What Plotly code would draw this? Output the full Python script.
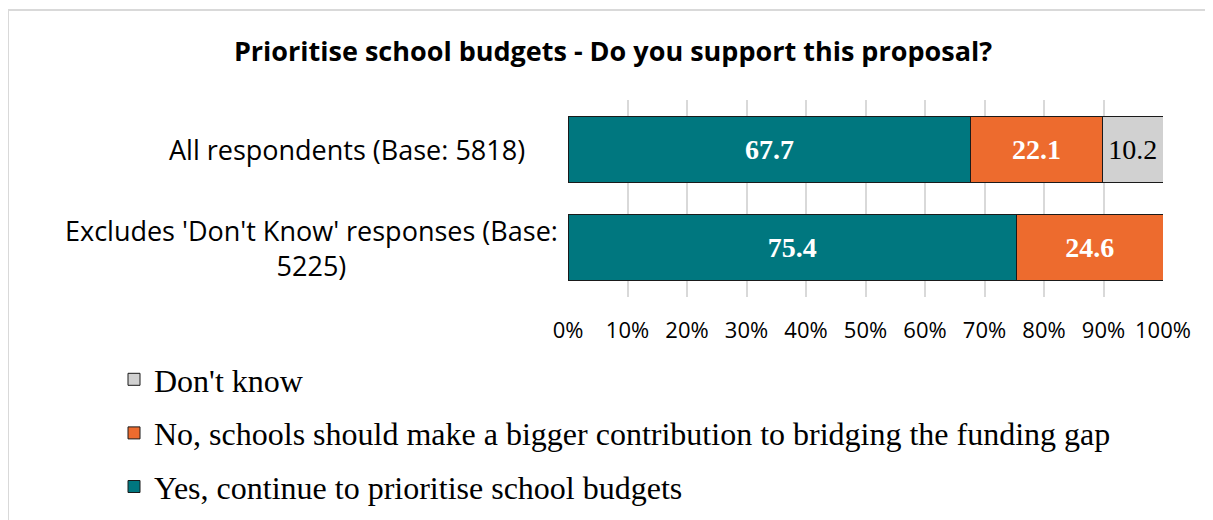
import plotly.graph_objects as go

categories = ["All respondents (Base: 5818)", "Excludes 'Don't Know' responses (Base:<br>5225)"]
yes_vals = [67.7, 75.4]
no_vals = [22.1, 24.6]
dk_vals = [10.2, None]

yes_name = "Yes, continue to prioritise school budgets"
no_name = "No, schools should make a bigger contribution to bridging the funding gap"
dk_name = "Don't know"

teal = "#00777F"
orange = "#ED6B2E"
grey = "#D1D1D1"

# page has an 8px body margin, so the figure is drawn 8px in from the corner
OFF = 8
W, H = 1213 - OFF, 520 - OFF
ml, mr, mt, mb = 568 - OFF, 1213 - 1163, 100 - OFF, 520 - 297
pw = W - ml - mr
ph = H - mt - mb


def px_x(x):
    return (x - OFF - ml) / pw


def px_y(y):
    return 1 - (y - OFF - mt) / ph


serif = "Liberation Serif"
sans = "Open Sans"

fig = go.Figure()

series = [
    (yes_vals, yes_name, teal, "white", "bold", 3),
    (no_vals, no_name, orange, "white", "bold", 2),
    (dk_vals, dk_name, grey, "black", "normal", 1),
]
for vals, name, col, tcol, weight, rank in series:
    fig.add_trace(go.Bar(
        y=categories,
        x=vals,
        name=name,
        orientation="h",
        marker=dict(color=col, line=dict(color="#1a1a1a", width=1)),
        text=[f"{v:.1f}" if v is not None else "" for v in vals],
        textposition="inside",
        insidetextanchor="middle",
        textfont=dict(family=serif, size=28, color=tcol, weight=weight),
        legendgroup=name,
        legendrank=rank,
        hoverinfo="skip",
    ))

# category labels (centered multi-line like the original)
label_right = [527, 560]
for cat, xr in zip(categories, label_right):
    fig.add_annotation(
        x=px_x(xr), xref="paper", y=cat, yref="y",
        text=cat, showarrow=False, xanchor="right", align="center",
        font=dict(family=sans, size=27, color="black"),
    )

# outer chart border
fig.add_shape(
    type="rect", xref="paper", yref="paper",
    x0=px_x(8), x1=px_x(1230),
    y0=px_y(10), y1=px_y(540),
    line=dict(color="#d9d9d9", width=2), layer="below",
)

fig.update_layout(
    width=W, height=H,
    margin=dict(l=ml, r=mr, t=mt, b=mb, autoexpand=False),
    paper_bgcolor="white", plot_bgcolor="white",
    barmode="stack",
    bargap=0.33,
    title=dict(
        text="Prioritise school budgets - Do you support this proposal?",
        x=(613 - OFF) / W, xanchor="center", y=1 - (52 - OFF) / H, yanchor="middle",
        font=dict(family=sans, size=27, color="black", weight="bold"),
    ),
    xaxis=dict(
        range=[0, 100], dtick=10, ticksuffix="%",
        showgrid=True, gridcolor="#d9d9d9", gridwidth=2,
        zeroline=False, showline=False,
        ticks="", ticklabelstandoff=18,
        tickfont=dict(family=sans, size=22, color="black"),
    ),
    yaxis=dict(
        autorange="reversed", showticklabels=False, showgrid=False,
        zeroline=False, showline=False,
    ),
    showlegend=True,
    legend=dict(
        x=px_x(114), xanchor="left",
        y=px_y(352), yanchor="top",
        traceorder="grouped", tracegroupgap=9,
        font=dict(family=serif, size=32, color="black"),
        bgcolor="rgba(0,0,0,0)",
    ),
)

fig.write_html("out.html")
